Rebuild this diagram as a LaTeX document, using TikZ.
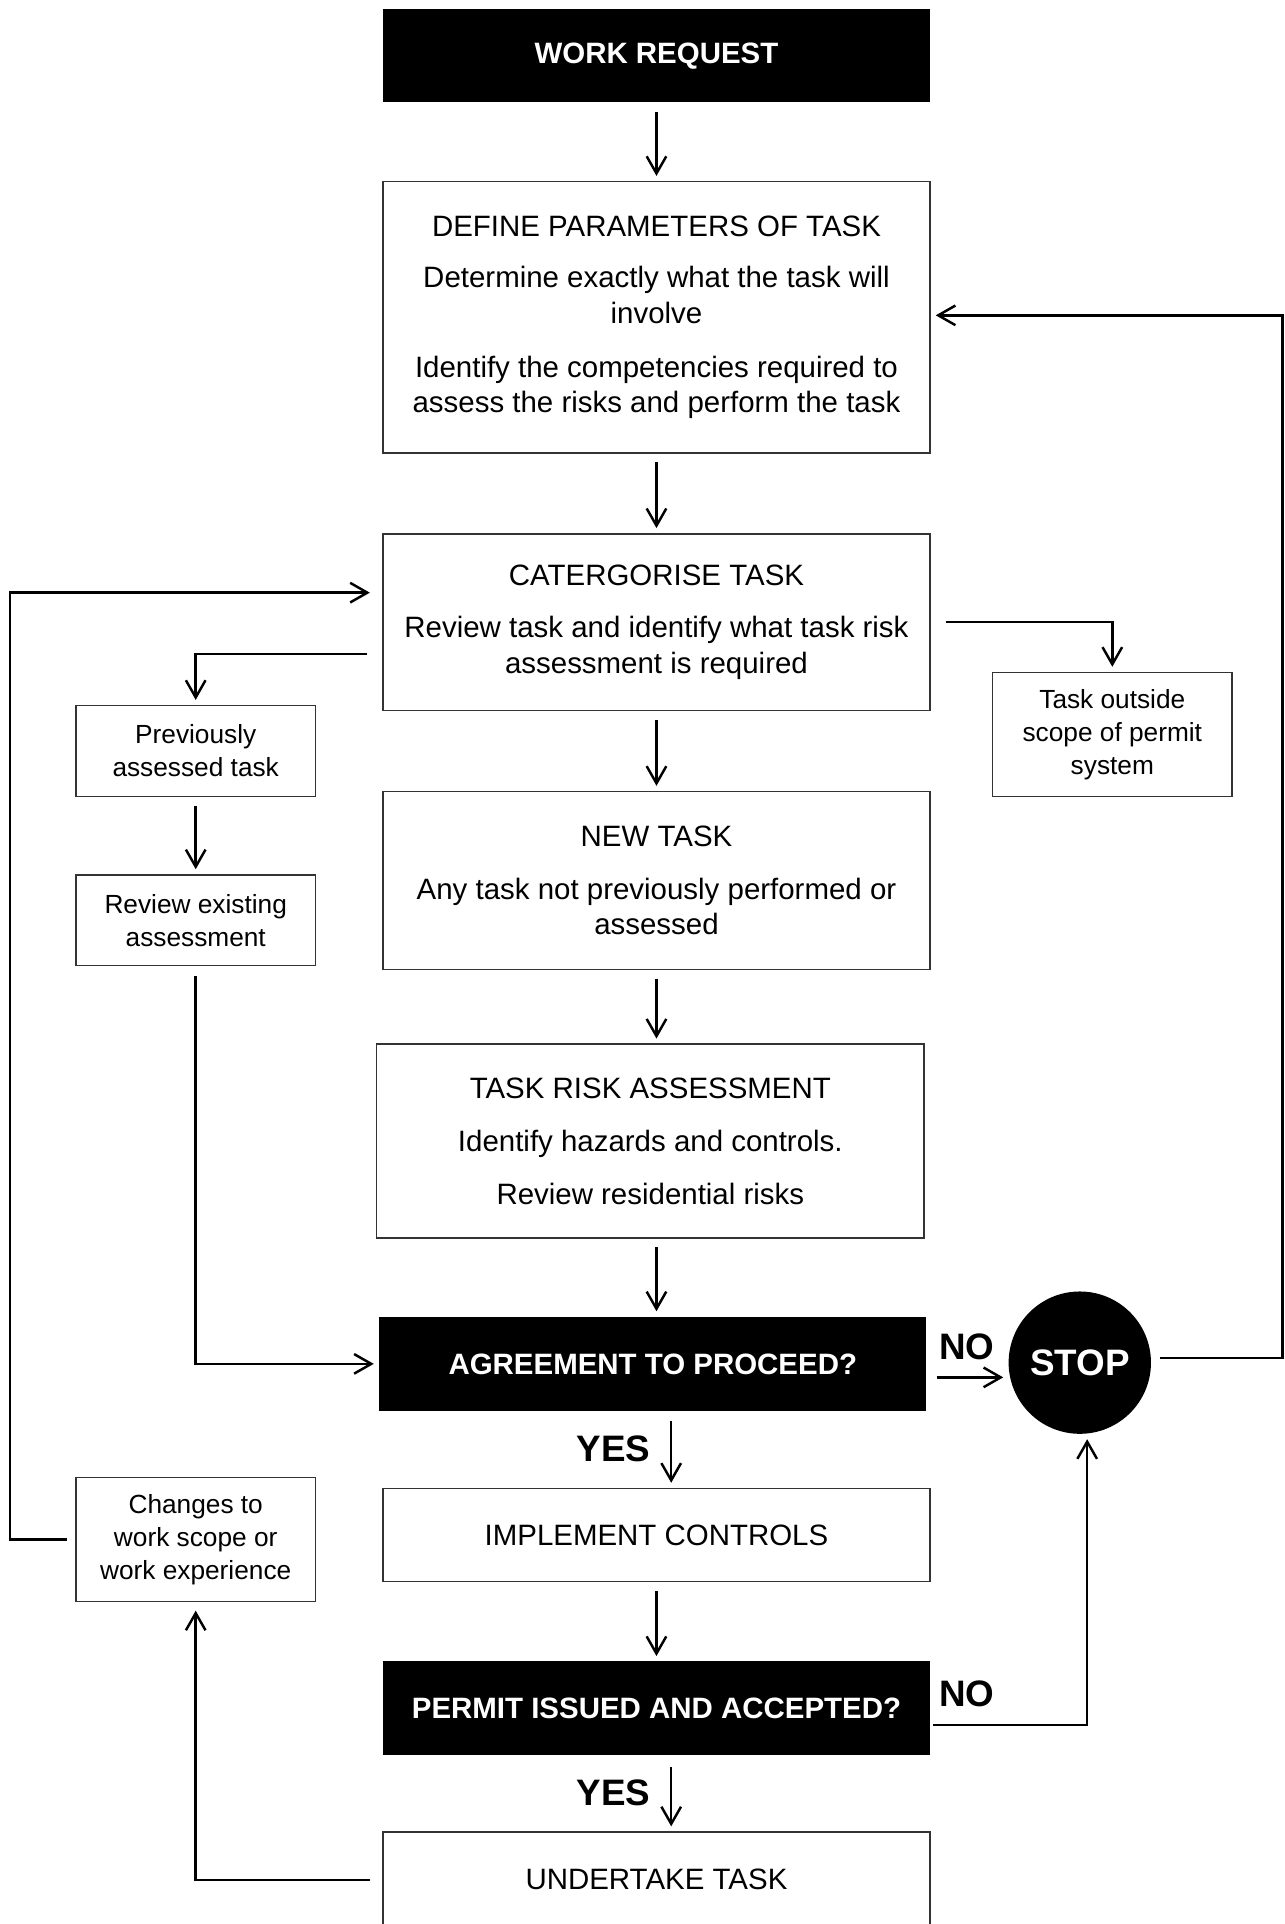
\documentclass[tikz,border=0pt]{standalone}
\usepackage{fontspec}
\setmainfont{Liberation Sans}
\usepackage{tikz}
\usetikzlibrary{arrows.meta}

\begin{document}
\begin{tikzpicture}[x=0.5pt,y=-0.5pt,
    box/.style={draw=black!80,line width=0.6pt,minimum width=223pt,align=center,inner sep=0pt,
      font=\fontsize{12}{14.5}\selectfont},
    darkbox/.style={fill=black,text=white,minimum width=223pt,minimum height=38pt,inner sep=0pt,
      font=\bfseries\fontsize{12}{14.5}\selectfont},
    sidebox/.style={draw=black!80,line width=0.6pt,minimum width=97.5pt,align=center,inner sep=0pt,
      font=\fontsize{10.7}{13.5}\selectfont},
    answer/.style={font=\bfseries\fontsize{15}{18}\selectfont},
    flow/.style={line width=1pt,-{Straight Barb[length=7pt,width=8pt]},shorten <=3.5pt,shorten >=2pt}]
  \useasboundingbox (0,0) rectangle (1047,1568);

  \node[darkbox] (work) at (535,45.5) {WORK REQUEST};
  \node[box,minimum height=110.5pt] (define) at (535,258.5) {DEFINE PARAMETERS OF TASK\\[6.5pt]
    Determine exactly what the task will\\ involve\\[7.5pt]
    Identify the competencies required to\\ assess the risks and perform the task};
  \node[box,minimum height=72pt] (cat) at (535,507) {CATERGORISE TASK\\[7pt]
    Review task and identify what task risk\\ assessment is required};
  \node[box,minimum height=72.5pt] (newtask) at (535,717.5) {NEW TASK\\[7pt]
    Any task not previously performed or\\ assessed};
  \node[box,minimum height=79pt] (tra) at (530,930) {TASK RISK ASSESSMENT\\[7pt]
    Identify hazards and controls.\\[7pt] Review residential risks};
  \node[darkbox,minimum height=38.5pt] (agree) at (532,1111.5) {AGREEMENT TO PROCEED?};
  \node[box,minimum height=38pt] (impl) at (535,1251) {IMPLEMENT CONTROLS};
  \node[darkbox] (permit) at (535,1392) {PERMIT ISSUED AND ACCEPTED?};
  \node[box,minimum height=39pt] (under) at (535,1532) {UNDERTAKE TASK};

  \node[sidebox,minimum height=37pt] (prev) at (159.5,612) {Previously\\ assessed task};
  \node[sidebox,minimum height=37pt] (review) at (159.5,750) {Review existing\\ assessment};
  \node[sidebox,minimum height=50.5pt] (changes) at (159.5,1254.5) {Changes to\\ work scope or\\ work experience};
  \node[sidebox,minimum height=50.5pt] (outside) at (906.5,598.5) {Task outside\\ scope of permit\\ system};

  \node[circle,fill=black,text=white,minimum size=58pt,inner sep=0pt,answer] (stop) at (880,1110.5) {STOP};

  \node[answer] (yes1) at (500,1181) {YES};
  \node[answer] (yes2) at (500,1461) {YES};
  \node[answer] (no1) at (788,1098) {NO};
  \node[answer] (no2) at (788,1380) {NO};

  \coordinate (corner) at (1045,257);
  \coordinate (leftturn) at (8,483);

  \draw[flow] (work) -- (define);
  \draw[flow] (define) -- (cat);
  \draw[flow] (cat) -- (newtask);
  \draw[flow] (newtask.south) -- (newtask.south |- tra.north);
  \draw[flow] (tra.south -| newtask.south) -- (agree.north -| newtask.south);
  \draw[flow,shorten <=4pt] ([xshift=7.5pt]agree.south) -- ([xshift=7.5pt]agree.south |- impl.north);
  \draw[flow] (impl) -- (permit);
  \draw[flow,shorten <=5pt] ([xshift=6pt]permit.south) -- ([xshift=6pt]under.north);

  \draw[flow,shorten <=4pt] ([yshift=-5.5pt]agree.east) -- ([yshift=-5.5pt]agree.east -| stop.west);
  \draw[flow] ([yshift=2pt]stop.east) -| (corner) -- (corner -| define.east);
  \draw[flow,shorten <=1pt] ([yshift=-7pt]permit.east) -| ([xshift=3pt]stop.south);

  \draw[flow,shorten <=6pt] ([yshift=-13pt]cat.west) -| (prev.north);
  \draw[flow,shorten <=6pt] (cat.east) -| (outside.north);
  \draw[flow] (prev) -- (review);
  \draw[flow,shorten <=4pt] (review.south) |- (agree.west);
  \draw[flow,shorten >=5pt] (changes.west) -| (leftturn) -- (leftturn -| cat.west);
  \draw[flow,shorten <=5pt,shorten >=3.5pt] (under.west) -| (changes.south);
\end{tikzpicture}
\end{document}
